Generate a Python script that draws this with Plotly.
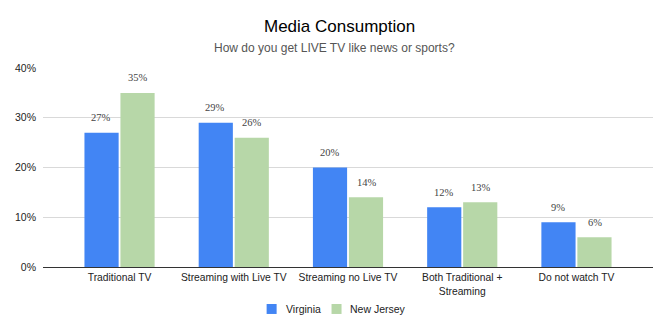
import plotly.graph_objects as go

categories = ["Traditional TV", "Streaming with Live TV", "Streaming no Live TV",
              "Both Traditional +<br>Streaming", "Do not watch TV"]
series_names = ["Virginia", "New Jersey"]
virginia = [0.27, 0.29, 0.20, 0.12, 0.09]
new_jersey = [0.35, 0.26, 0.14, 0.13, 0.06]
y_ticks = [0, 0.1, 0.2, 0.3, 0.4]
y_tick_labels = ["0%", "10%", "20%", "30%", "40%"]

colors = ["#4285F4", "#B7D7A8"]
label_font = dict(family="Liberation Serif", size=10.5, color="#444444")

fig = go.Figure()
for name, vals, col in zip(series_names, [virginia, new_jersey], colors):
    fig.add_trace(go.Bar(name=name, x=categories, y=vals, marker_color=col,
                         marker_line_width=0, showlegend=False))

# value labels above each bar
annotations = []
for vals, shift in zip([virginia, new_jersey], [-18.5, 18.5]):
    for cat, v in zip(categories, vals):
        annotations.append(dict(x=cat, y=v, xref="x", yref="y", text=f"{round(v*100)}%",
                                showarrow=False, xshift=shift, yshift=15,
                                xanchor="center", yanchor="middle", font=label_font))

annotations += [
    dict(text="Media Consumption", xref="paper", yref="paper", x=0.486, y=1.21,
         xanchor="center", yanchor="middle", showarrow=False,
         font=dict(size=17, color="#000000")),
    dict(text="How do you get LIVE TV like news or sports?", xref="paper", yref="paper",
         x=0.478, y=1.103, xanchor="center", yanchor="middle", showarrow=False,
         font=dict(size=12, color="#555555")),
]

# custom legend
legend_x = [(0.3666, 0.383, 0.3944), (0.473, 0.4894, 0.5008)]
shapes = []
for name, col, (x0, x1, xt) in zip(series_names, colors, legend_x):
    shapes.append(dict(type="rect", xref="paper", yref="paper", x0=x0, x1=x1,
                       y0=-0.236, y1=-0.186, fillcolor=col, line=dict(width=0)))
    annotations.append(dict(text=name, xref="paper", yref="paper", x=xt, y=-0.211,
                            xanchor="left", yanchor="middle", showarrow=False,
                            font=dict(size=10.5, color="#222222")))

fig.update_layout(
    width=669, height=331,
    margin=dict(l=43, r=16, t=68, b=64),
    paper_bgcolor="white", plot_bgcolor="white",
    barmode="group", bargap=0.37, bargroupgap=0.05,
    font=dict(family="Liberation Sans, Arial", size=10.5, color="#222222"),
    showlegend=False,
    annotations=annotations,
    shapes=shapes,
)
fig.update_xaxes(range=[-0.67, 4.67], showline=True, linecolor="#333333", linewidth=1,
                 ticks="", ticklabelstandoff=1, tickfont=dict(size=10.3, color="#222222"),
                 showgrid=False)
fig.update_yaxes(range=[0, 0.4], tickvals=y_ticks, ticktext=y_tick_labels,
                 showgrid=True, gridcolor="#D9D9D9", gridwidth=1, zeroline=False,
                 ticks="", ticklabelstandoff=6, tickfont=dict(size=10.5, color="#222222"))

fig.write_html("out.html")
